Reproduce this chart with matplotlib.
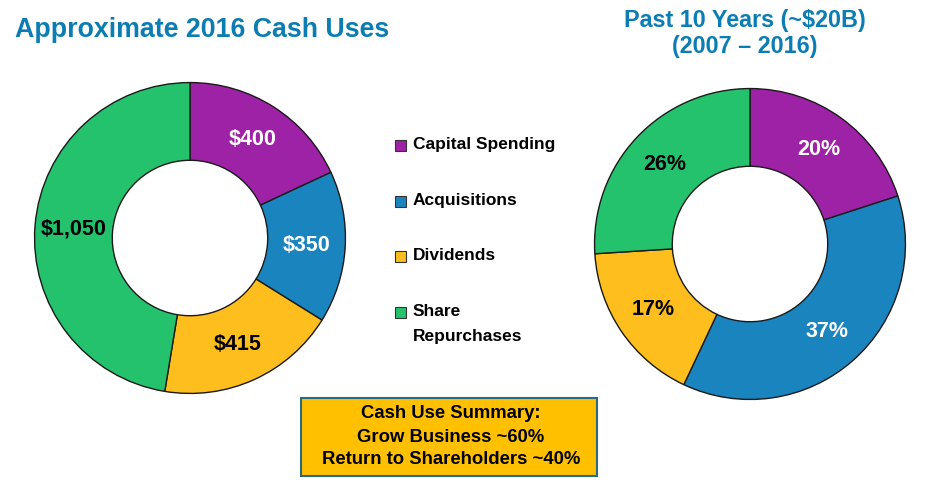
import matplotlib.pyplot as plt
from matplotlib.patches import Rectangle
import numpy as np

plt.rcParams['font.family'] = ['Liberation Sans', 'DejaVu Sans']
plt.rcParams['font.weight'] = 'bold'

# 数据
categories = ['Capital Spending', 'Acquisitions', 'Dividends', 'Share\nRepurchases']
cash_2016 = [400, 350, 415, 1050]
cash_2016_labels = ['$400', '$350', '$415', '$1,050']
past_10y = [20, 37, 17, 26]
past_10y_labels = ['20%', '37%', '17%', '26%']
colors = ['#9E22A6', '#1A84BE', '#FDBE1E', '#25C26E']
label_colors = ['white', 'white', 'black', 'black']
summary = ['Cash Use Summary:', 'Grow Business ~60%', 'Return to Shareholders ~40%']

W, H = 928, 492
fig = plt.figure(figsize=(W / 100, H / 100), dpi=100)

# 背景层，用像素坐标
bg = fig.add_axes([0, 0, 1, 1])
bg.set_xlim(0, W)
bg.set_ylim(H, 0)
bg.axis('off')


def donut(cx, cy, r, values, labels):
    ax = fig.add_axes([(cx - r) / W, (H - cy - r) / H, 2 * r / W, 2 * r / H])
    wedges, _ = ax.pie(values, colors=colors, startangle=90, counterclock=False,
                       radius=1, wedgeprops=dict(width=0.5, edgecolor='#1a1a1a', linewidth=1))
    for w, lab, tc in zip(wedges, labels, label_colors):
        ang = np.deg2rad((w.theta1 + w.theta2) / 2)
        ax.text(0.75 * np.cos(ang), 0.75 * np.sin(ang), lab, ha='center', va='center',
                fontsize=15.5, fontweight='bold', color=tc)
    ax.set_xlim(-1.01, 1.01)
    ax.set_ylim(-1.01, 1.01)
    ax.set_aspect('equal')
    ax.axis('off')


donut(190, 238, 157, cash_2016, cash_2016_labels)
donut(750, 244, 157, past_10y, past_10y_labels)

# 标题
bg.text(15, 30, 'Approximate 2016 Cash Uses', fontsize=19.3, fontweight='bold',
        color='#0B7DB3', va='center', ha='left')
bg.text(745, 20, 'Past 10 Years (~$20B)', fontsize=16.8, fontweight='bold',
        color='#0B7DB3', va='center', ha='center')
bg.text(745, 47, '(2007 \u2013 2016)', fontsize=16.8, fontweight='bold',
        color='#0B7DB3', va='center', ha='center')

# 图例
leg_y = [145, 201, 256, 312]
for y, c, lab in zip(leg_y, colors, categories):
    bg.add_patch(Rectangle((395, y - 5), 11, 11, facecolor=c, edgecolor='#333333', linewidth=0.8))
    lines = lab.split('\n')
    for k, t in enumerate(lines):
        bg.text(413, y + 25 * k, t, fontsize=12.5, fontweight='bold', va='center', ha='left')

# 总结框
bg.add_patch(Rectangle((301, 398), 296, 78, facecolor='#FFC000', edgecolor='#2A6A80', linewidth=1.5))
for i, s in enumerate(summary):
    bg.text(451, 414 + 23 * i, s, fontsize=13.3, fontweight='bold', va='center', ha='center')

fig.savefig('out.png', dpi=100)
